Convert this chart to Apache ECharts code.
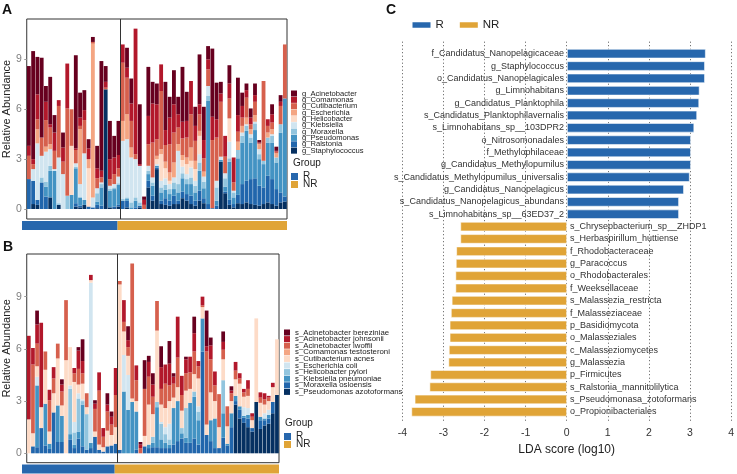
<!DOCTYPE html>
<html><head><meta charset="utf-8">
<script src="https://cdn.jsdelivr.net/npm/echarts@6/dist/echarts.min.js"></script>
<style>html,body{margin:0;padding:0;background:#fff}#c{width:737px;height:474px}</style>
</head><body><div id="c"></div>
<script>
// ---------- samples / groups ----------
const samples = ["R01","R02","R03","R04","R05","R06","R07","R08","R09","R10","R11","R12","R13","R14","R15","R16","R17","R18","R19","R20","R21","R22",
"NR01","NR02","NR03","NR04","NR05","NR06","NR07","NR08","NR09","NR10","NR11","NR12","NR13","NR14","NR15","NR16","NR17","NR18","NR19","NR20",
"NR21","NR22","NR23","NR24","NR25","NR26","NR27","NR28","NR29","NR30","NR31","NR32","NR33","NR34","NR35","NR36","NR37","NR38","NR39"];
const groups = ["R","R","R","R","R","R","R","R","R","R","R","R","R","R","R","R","R","R","R","R","R","R",
"NR","NR","NR","NR","NR","NR","NR","NR","NR","NR","NR","NR","NR","NR","NR","NR","NR","NR","NR","NR",
"NR","NR","NR","NR","NR","NR","NR","NR","NR","NR","NR","NR","NR","NR","NR","NR","NR","NR","NR"];

// ---------- Panel A: genus relative abundance ----------
const A_Staphylococcus = [0,0.3,0.25,0,0,0.7,0,0.25,0,0, 0,0.15,0.1,0.25,0,0,0.05,0,7.2,0.1, 0.05,0.15,0,0.1,0,0,0.1,0,1.3,0.5, 2.4,0.3,0.25,0.2,0.3,0.3,0.65,0.5,0.3,0.2, 0.5,0.35,0,0,0,2.85,0.95,0.25,0.1,0.35, 0.3,0.4,0.3,0.25,0.2,0.3,0.4,0.3,0.2,0.4,0.45];
const A_Ralstonia = [1.8,1.4,0.3,1.6,0.75,0,0,0,0,0, 0,0.2,0.1,0,0.15,0.1,0.2,0.2,0,0, 0.1,0.1,0.5,0.4,0,0.1,0.1,0,0.4,0.3, 0.1,0.2,0.4,0.3,0.5,0.2,0.4,0.4,0.5,0.3, 0.6,0.3,0.3,0.05,0.2,0,0.1,0.3,0.2,0.5, 1.2,1.3,1.5,1.6,1.2,1.0,1.6,1.5,1.0,0.6,0.3];
const A_Pseudomonas = [0,0,0,0,0.6,1.6,2.3,0,0,0, 0.85,2.1,0.5,0.3,0,0,0.2,1.1,0,1.0, 1.05,1.2,0,0.1,0.1,0.4,0,0,0.4,0.6, 0.1,0.5,0.5,0.4,0.4,0.5,0.8,0.6,0.7,0.5, 1.2,0.6,6.2,0,0.3,0.1,0.3,2.3,0.4,2.2, 2.5,3.0,2.2,2.9,1.6,1.4,2.0,2.2,1.6,3.6,5.9];
const A_Moraxella = [0,0,0,0.3,0.3,0.3,0,0.1,0,0.8, 0,0.1,0,0,0,0,0.5,0.2,0,0.1, 0.1,0.1,0.1,0.1,0.3,0.2,0.2,0,0.2,0.2, 0,0.3,0.3,0.3,0.4,0.5,0.3,0.3,0.4,0.4, 0.5,0.4,0.3,0,0.8,0,0.5,0.2,0.3,0.5, 0.4,0.3,0.3,0.4,0.3,0.2,0.3,0.4,0.3,0.5,0];
const A_Klebsiella = [0,0.7,3.4,1.3,1.8,1.0,0.1,2.75,2.1,0, 0,0.2,0.8,2.8,0,0.6,0.3,0.1,0,0.2, 0.2,0.4,3.5,3.5,2.7,2.3,2.2,0,0.3,0.3, 0.1,0.4,0.4,0.3,0.3,2.0,0.4,0.3,0.6,0.3, 0.5,0.3,0.6,0,0.4,0.2,0.3,1.0,0.1,0, 0.2,0.1,0.2,0.1,0.3,0,0,0.1,0,0,0];
const A_Helicobacter = [0,0,0,0,0,0,0,0,0,0, 2.95,0,0,0,2.3,0,0,0,0,0, 0,0,0,0,0,0,0,0,0,0, 0.3,1.6,0.6,0.2,0,0,0.4,0.6,0.4,0.7, 1.1,0,0,0,0,0,0,1.4,0,0, 0,0,0,0,0,0,0,0,0,0,0];
const A_Escherichia = [0,0,0.85,0,0.3,0.3,0,0,0,0, 0,0,3.3,0,0.55,9.25,0,0,0,0, 0,0,1.2,1.5,0.6,0,0,0,0,0, 0.2,0.3,0.4,0.5,0.9,0.4,0.3,0.4,0.8,0.5, 0.3,0.3,0,0,0,0,0,0,0,0.5, 0.4,0.4,0.3,0.4,0.3,0,0.3,0.3,0.25,0,0];
const A_Cutibacterium = [1.4,0.3,0.6,1.1,1.6,1.0,1.1,3.1,0.75,5.25, 2.2,0.8,0.2,2.0,0,0.1,0.6,0.3,0.1,0.4, 0.6,0.5,3.5,2.2,1.6,0.3,0,0.25,1.3,2.1, 1.0,3.5,1.0,1.7,1.8,1.0,1.0,1.2,2.0,1.2, 1.0,0.8,1.0,4.1,2.6,3.3,1.0,1.2,0.5,0.6, 0.5,1.2,0.3,0.8,0.05,4.8,0.4,0.4,0.1,1.1,3.25];
const A_Comamonas = [0.6,0.3,1.5,0,1.1,0.2,1.1,0.35,0.85,2.7, 0,0.1,0.5,0.6,0.65,0,0.6,0.4,0.35,1.2, 1.0,0.8,1.1,0.6,1.05,7.55,0.1,0.3,1.7,2.35, 2.1,1.6,0.9,1.6,1.7,0.8,1.0,1.0,2.0,0.9, 0.6,1.1,0.6,1.4,1.1,0.5,1.25,0.9,1.5,1.0, 0.7,0.45,0.4,0.4,0.05,0,0.4,0.5,0.05,0.25,0];
const A_Acinetobacter = [4.8,6.5,2.25,4.8,0.95,2.85,1.05,0,0.9,0, 0,5.6,1.5,1.2,0.55,0.3,1.35,6.6,0.95,2.3, 1.3,2.05,0,1.2,1.5,0,3.6,0.2,2.95,1.3, 1.25,0,2.9,1.25,2.05,1.05,3.3,1.75,0,1.15, 3.0,2.0,0.8,4.1,2.2,0.7,0,1.1,0,2.25, 0.8,0.4,0.55,0.7,0.15,0,0,0.6,0.25,0.4,0];

// ---------- Panel B: species relative abundance ----------
const B_Pseudomonas_azotoformans = [0,0,0,0,0,0,0,0,0,0, 0,0,0,0,0,0,0,0,0,0, 0,0,0,0,0,0,0,0,0,0, 0,0,0,0,0,0,0,0,0,0, 0,0,0,0,0,0,0,0,0,0, 2.8,2.0,1.75,1.5,1.25,2.95,1.4,1.6,1.7,2.3,3.35];
const B_Moraxella_osloensis = [0,0.4,0.35,1.45,0.45,0.25,2.35,0.65,0.65,0, 0.8,0.3,0.85,0.4,0.2,0.3,0.95,0.2,0.1,0.4, 0.45,0.55,0.2,0,0,0,0.2,0,0.4,0.3, 0.35,0.35,0.3,0.3,0.3,0.5,0.7,0.85,0.6,0.6, 0.85,0.5,5.85,1.05,0.7,0.3,0.3,0.9,0.45,1.5, 0.2,0.5,0.3,0.5,0.2,0,0.5,0.3,0.3,0.65,0];
const B_Klebsiella_pneumoniae = [0,0,3.55,0,2.4,0.3,0,2.1,1.5,0, 0.3,0.2,0.4,2.4,0,0.3,0,0,0,0, 0,0,0,3.55,2.5,2.95,2.2,0,0,0.2, 0.25,2.3,0.5,0.3,0.2,2.1,2.3,0.3,0.3,2.3, 2.4,1.4,1.9,0,1.2,1.7,0,1.4,0.1,0.8, 0.3,0.2,0.1,0.2,0,0,0.2,0.1,0.2,0,0];
const B_Helicobacter_pylori = [0,0,0,0,0,0,0,0,0,0, 2.6,0.7,1.9,0.2,2.05,0,0,0,0,0, 0,0,0,0,0,0,0,0,0,0, 0.35,0.3,0.9,0.5,0.3,0,0,0.3,1.7,0, 0.3,0.5,0,0,0,0,0,1.9,0,0, 0,0,0,0,0,0,0,0,0,0,0];
const B_Escherichia_coli = [0,0,0.5,0,0,0,0,0,0,0, 0.2,0.6,0.3,0.1,0,9.2,0,0,0,0, 0,0,0,2.1,2.0,0,0,0,0,0, 0,0,0.1,0.4,0.9,0,0,0,0,0, 0,0.3,0,0,0,0,0,0,0,0, 0,0,0.5,0.4,0,0,0,0.3,0.3,0,0];
const B_Cutibacterium_acnes = [1.95,0.75,0.6,1.2,1.95,0.7,1.1,2.7,0.6,5.35, 2.2,2.3,0.5,0.9,0.4,0.15,0.3,0.3,0.25,0.9, 0.6,0.95,9.5,1.35,1.1,0.2,0.6,0,0.6,2.3, 1.3,4.1,1.0,1.1,1.3,0.6,0.8,1.0,1.0,0.8, 1.0,1.6,0.65,0.6,1.6,1.0,1.2,1.2,1.0,0.7, 0.95,1.3,0.6,0.7,0.45,4.8,0.8,0.5,0.5,0.85,3.2];
const B_Comamonas_testosteroni = [0,0,0,0,0,0,0,0,0,0, 0,0,0,0,0,0,0,0,0,0, 0,0,0,0,0,0,0,0,0,0, 0,0,0,0,0,0,0,0,0,0, 0,0,0,0,0,0,0,0,0,0, 0,0,0,0,0,0,0,0,0,0,0];
const B_Acinetobacter_lwoffii = [0,3.95,1.3,0,1.05,1.8,0.85,0.85,0.8,3.45, 0,0.5,0.9,0.6,0.8,0,1.3,3.1,0.6,1.1, 0.6,1.85,0.2,0.55,0.5,7.75,1.2,0.3,2.7,1.6, 1.0,1.7,0.9,1.4,0.9,0.8,1.7,0.9,1.0,0.95, 1.3,0.7,0.1,4.2,1.9,0.9,1.9,0.55,1.15,0.45, 0.5,0.3,0.25,0.4,0.2,0,0.3,0.3,0.2,0,0];
const B_Acinetobacter_johnsonii = [4.8,0.95,1.1,4.85,0,0.6,0.65,0,0.4,0, 0,0.3,1.05,0.7,0,0.3,0.3,1.05,0.5,0.4, 0.45,1.55,0,1.25,0.4,0,0.85,0.2,0,0.85, 0.7,0,1.25,1.1,1.25,0.4,2.35,1.1,0.8,0.9, 1.05,0.3,0.5,0.3,0.8,0.8,0,0.45,0,0.15, 0.5,0.3,0.2,0.5,0.2,0,0.3,0.35,0.1,0.25,0];
const B_Acinetobacter_bereziniae = [0,0,0.8,0,0,0,0,0,0.3,0, 0,0,0.2,1.25,0,0,0.2,0,0,0.65, 0.3,0,0,0,0.8,0,0,0.15,1.65,0.35, 0.65,0,1.2,0,1.3,0.2,0,0,0.15,0, 0.95,0,0,2.05,0.45,0,0,0.6,0,0.25, 0,0,0,0,0,0,0,0,0,0,0];

// ---------- Panel C: LEfSe LDA scores ----------
const ldaNames = ["f_Candidatus_Nanopelagicaceae","g_Staphylococcus","o_Candidatus_Nanopelagicales","g_Limnohabitans","g_Candidatus_Planktophila",
"s_Candidatus_Planktophilavernalis","s_Limnohabitans_sp__103DPR2","o_Nitrosomonadales","f_Methylophilaceae","g_Candidatus_Methylopumilus",
"s_Candidatus_Methylopumilus_universalis","g_Candidatus_Nanopelagicus","s_Candidatus_Nanopelagicus_abundans","s_Limnohabitans_sp__63ED37_2",
"s_Chrysepbacterium_sp__ZHDP1","s_Herbaspirillum_huttiense","f_Rhodobacteraceae","g_Paracoccus","o_Rhodobacterales","f_Weeksellaceae",
"s_Malassezia_restricta","f_Malasseziaceae","p_Basidiomycota","o_Malasseziales","c_Malasseziomycetes","g_Malassezia","p_Firmicutes",
"s_Ralstonia_mannitolilytica","s_Pseudomonasa_zotoformans","o_Propionibacteriales"];
const ldaScores = [3.37,3.35,3.35,3.22,3.21,3.16,3.09,3.01,3.01,3.01,2.98,2.84,2.72,2.72,
-2.59,-2.59,-2.69,-2.70,-2.71,-2.71,-2.80,-2.82,-2.85,-2.85,-2.87,-2.88,-3.32,-3.34,-3.70,-3.78];
const ldaTicks = [-4,-3,-2,-1,0,1,2,3,4];
const abundTicks = [0,3,6,9];

// ---------- styling ----------
const FONT = '"Liberation Sans", Arial, Helvetica, sans-serif';
const COL_R = '#2767ad', COL_NR = '#e0a437';
const aDefs = [ // bottom -> top
  ['g_Staphylococcus', A_Staphylococcus, '#053061'],
  ['g_Ralstonia', A_Ralstonia, '#2166AC'],
  ['g_Pseudomonas', A_Pseudomonas, '#4393C3'],
  ['g_Moraxella', A_Moraxella, '#92C5DE'],
  ['g_Klebsiella', A_Klebsiella, '#D1E5F0'],
  ['g_Helicobacter', A_Helicobacter, '#FDDBC7'],
  ['g_Escherichia', A_Escherichia, '#F4A582'],
  ['g_Cutibacterium', A_Cutibacterium, '#D6604D'],
  ['g_Comamonas', A_Comamonas, '#B2182B'],
  ['g_Acinetobacter', A_Acinetobacter, '#67001F']
];
const bDefs = [
  ['s_Pseudomonas azotoformans', B_Pseudomonas_azotoformans, '#053061'],
  ['s_Moraxella osloensis', B_Moraxella_osloensis, '#2166AC'],
  ['s_Klebsiella pneumoniae', B_Klebsiella_pneumoniae, '#4393C3'],
  ['s_Helicobacter pylori', B_Helicobacter_pylori, '#92C5DE'],
  ['s_Escherichia coli', B_Escherichia_coli, '#D1E5F0'],
  ['s_Cutibacterium acnes', B_Cutibacterium_acnes, '#FDDBC7'],
  ['s_Comamonas testosteroni', B_Comamonas_testosteroni, '#F4A582'],
  ['s_Acinetobacter lwoffii', B_Acinetobacter_lwoffii, '#D6604D'],
  ['s_Acinetobacter johnsonii', B_Acinetobacter_johnsonii, '#B2182B'],
  ['s_Acinetobacter bereziniae', B_Acinetobacter_bereziniae, '#67001F']
];
const nR = groups.filter(g => g === 'R').length;
const nS = samples.length;

function stackSeries(defs, xi, yi, stack) {
  return defs.map(([name, data, color]) => ({
    name, type: 'bar', stack, xAxisIndex: xi, yAxisIndex: yi, data,
    itemStyle: { color }, barCategoryGap: '10%', silent: true
  }));
}
function bandSeries(xi, yi) {
  return { type: 'line', xAxisIndex: xi, yAxisIndex: yi, data: [], silent: true,
    markArea: { silent: true, label: { show: false },
      data: [
        [{ xAxis: 0, itemStyle: { color: COL_R, opacity: 1 } }, { xAxis: nR }],
        [{ xAxis: nR, itemStyle: { color: COL_NR, opacity: 1 } }, { xAxis: nS }]
      ] } };
}
function divider(xi, yi) {
  return { type: 'line', xAxisIndex: xi, yAxisIndex: yi, data: [], silent: true,
    markLine: { silent: true, symbol: 'none', label: { show: false },
      lineStyle: { color: '#333', width: 1, type: 'solid' }, data: [{ xAxis: nR }] } };
}
const hiddenCat = (gi) => ({ type: 'category', gridIndex: gi, data: samples, show: false });
const hiddenVal = (gi, min, max) => ({ type: 'value', gridIndex: gi, min, max, show: false, splitLine: { show: false } });
function abundAxis(gi, min, max) {
  return {
    type: 'value', gridIndex: gi, min, max,
    name: 'Relative Abundance', nameLocation: 'middle', nameGap: 10,
    nameTextStyle: { fontSize: 11, color: '#222', fontFamily: FONT, padding: [0, 0, 0, 20] },
    axisLine: { show: false }, splitLine: { show: false },
    axisTick: { show: true, length: 2.5, customValues: abundTicks, lineStyle: { color: '#999' } },
    axisLabel: { customValues: abundTicks, margin: 5, fontSize: 10.5, color: '#808080', fontFamily: FONT }
  };
}
const legText = (fs, lh) => ({ fontSize: fs, lineHeight: lh, color: '#222', fontFamily: FONT });

const option = {
  animation: false,
  textStyle: { fontFamily: FONT },
  title: [
    { text: 'A', left: 2, top: 3, padding: 0, textStyle: { fontSize: 14, fontWeight: 'bold', color: '#111', fontFamily: FONT } },
    { text: 'B', left: 3, top: 240, padding: 0, textStyle: { fontSize: 14, fontWeight: 'bold', color: '#111', fontFamily: FONT } },
    { text: 'C', left: 386, top: 3, padding: 0, textStyle: { fontSize: 14, fontWeight: 'bold', color: '#111', fontFamily: FONT } },
    { text: 'Group', left: 293, top: 158, padding: 0, textStyle: { fontSize: 10, fontWeight: 'normal', color: '#222', fontFamily: FONT } },
    { text: 'Group', left: 285, top: 418, padding: 0, textStyle: { fontSize: 10, fontWeight: 'normal', color: '#222', fontFamily: FONT } }
  ],
  legend: [
    { left: 291, top: 89.5, orient: 'vertical', padding: 0, itemWidth: 6, itemHeight: 6, itemGap: -1.65, icon: 'rect',
      selectedMode: false, data: aDefs.map(d => d[0]).reverse(), textStyle: legText(7.6, 6) },
    { left: 291, top: 171.5, orient: 'vertical', padding: 0, itemWidth: 7, itemHeight: 7, itemGap: -2, icon: 'rect',
      selectedMode: false, data: ['R', 'NR'], textStyle: legText(10, 7), itemStyle: { borderWidth: 0 } },
    { left: 284, top: 328.5, orient: 'vertical', padding: 0, itemWidth: 6, itemHeight: 6, itemGap: -1.4, icon: 'rect',
      selectedMode: false, data: bDefs.map(d => d[0]).reverse(), textStyle: legText(7.8, 6) },
    { left: 284, top: 431.5, orient: 'vertical', padding: 0, itemWidth: 7, itemHeight: 7, itemGap: -2, icon: 'rect',
      selectedMode: false, data: ['R', 'NR'], textStyle: legText(10, 7), itemStyle: { borderWidth: 0 } },
    { left: 412.5, top: 19, orient: 'horizontal', padding: 0, itemWidth: 18, itemHeight: 5.5, itemGap: 16, icon: 'rect',
      selectedMode: false, data: ['R', 'NR'], textStyle: { fontSize: 11.5, color: '#222', fontFamily: FONT }, itemStyle: { borderWidth: 0 } }
  ],
  grid: [
    { left: 22, top: 19, width: 265, height: 200, show: true, borderColor: '#333', borderWidth: 1, backgroundColor: 'transparent' },
    { left: 22, top: 221, width: 265, height: 9 },
    { left: 22, top: 254, width: 257, height: 208.7, show: true, borderColor: '#333', borderWidth: 1, backgroundColor: 'transparent' },
    { left: 22, top: 464.5, width: 257, height: 9 },
    { left: 402.3, top: 47.5, width: 329.4, height: 370.5 },
    { left: 402.3, top: 41.7, width: 329.4, height: 380 }
  ],
  xAxis: [
    hiddenCat(0),
    hiddenVal(0, 0, nS),
    hiddenVal(1, 0, nS),
    hiddenCat(2),
    hiddenVal(2, 0, nS),
    hiddenVal(3, 0, nS),
    { type: 'value', gridIndex: 4, min: -4, max: 4, show: false, splitLine: { show: false } },
    { type: 'value', gridIndex: 5, min: -4, max: 4, interval: 1,
      name: 'LDA score (log10)', nameLocation: 'middle', nameGap: 20,
      nameTextStyle: { fontSize: 12, color: '#222', fontFamily: FONT },
      axisLine: { show: false }, axisTick: { show: false },
      axisLabel: { customValues: ldaTicks, margin: 6, fontSize: 10.5, color: '#333', fontFamily: FONT },
      splitLine: { show: true, lineStyle: { color: '#555', width: 1, type: [1, 2.5] } } }
  ],
  yAxis: [
    abundAxis(0, -0.6, 11.43),
    hiddenVal(1, 0, 1),
    abundAxis(2, -0.54, 11.45),
    hiddenVal(3, 0, 1),
    { type: 'category', gridIndex: 4, data: ldaNames, inverse: true, show: false },
    hiddenVal(5, 0, 1)
  ],
  series: [
    { name: 'R', type: 'bar', xAxisIndex: 6, yAxisIndex: 4, barGap: '-100%', barCategoryGap: '23%', silent: true,
      data: ldaScores.map(v => v > 0 ? v : '-'),
      itemStyle: { color: COL_R, borderColor: 'rgba(255,255,255,0.7)', borderWidth: 0.8 },
      label: { show: true, position: 'left', distance: 3, formatter: '{b}', fontSize: 9, color: '#333', fontFamily: FONT } },
    { name: 'NR', type: 'bar', xAxisIndex: 6, yAxisIndex: 4, barGap: '-100%', barCategoryGap: '23%', silent: true,
      data: ldaScores.map(v => v < 0 ? v : '-'),
      itemStyle: { color: COL_NR, borderColor: 'rgba(255,255,255,0.7)', borderWidth: 0.8 },
      label: { show: true, position: 'right', distance: 3, formatter: '{b}', fontSize: 9, color: '#333', fontFamily: FONT } },
    { type: 'scatter', xAxisIndex: 7, yAxisIndex: 5, data: [], silent: true },
    bandSeries(2, 1),
    bandSeries(5, 3),
    ...stackSeries(aDefs, 0, 0, 'A'),
    divider(1, 0),
    ...stackSeries(bDefs, 3, 2, 'B'),
    divider(4, 2)
  ]
};
const chart = echarts.init(document.getElementById('c'), null, { renderer: 'canvas' });
chart.setOption(option);
</script>
</body></html>
